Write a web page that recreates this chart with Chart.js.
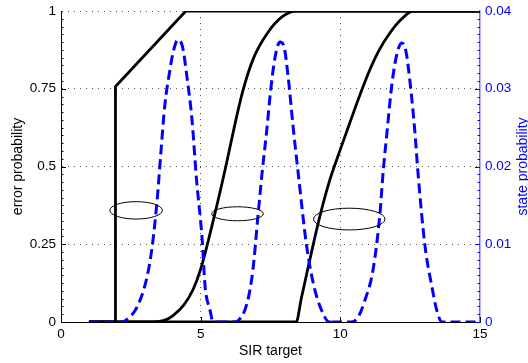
<!DOCTYPE html>
<html><head><meta charset="utf-8">
<script src="https://cdn.jsdelivr.net/npm/chart.js@4.4.0/dist/chart.umd.min.js"></script>
<style>html,body{margin:0;padding:0;background:#fff;overflow:hidden}#wrap{width:528px;height:363px}</style>
</head><body><div id="wrap"><canvas id="c" width="528" height="363"></canvas></div>
<script>
// ---- data ----
const xTickValues = [0, 5, 10, 15];
const leftTickValues = [0, 0.25, 0.5, 0.75, 1];
const rightTickValues = [0, 0.01, 0.02, 0.03, 0.04];

// error probability curves (left axis)
const err1X = [1, 1.95, 1.95, 4.47, 15];
const err1Y = [0, 0, 0.757, 1, 1];
const err2X = [1, 3.3, 3.7, 4.0, 4.4, 4.72, 5.0, 5.5, 5.9, 6.2, 6.5, 6.9, 7.4, 7.9, 8.4, 15];
const err2Y = [0, 0, 0.005, 0.02, 0.055, 0.103, 0.17, 0.345, 0.5, 0.625, 0.74, 0.85, 0.93, 0.98, 1, 1];
const err3X = [1, 8.42, 8.6, 8.85, 9.24, 9.6, 10.0, 10.35, 10.7, 11.06, 11.4, 11.78, 12.2, 12.6, 15];
const err3Y = [0, 0, 0.075, 0.177, 0.33, 0.45, 0.555, 0.643, 0.73, 0.812, 0.876, 0.93, 0.975, 1, 1];

// state probability curves (right axis)
const st1X = [1, 2.2, 2.35, 2.72, 3.08, 3.26, 3.44, 3.58, 3.72, 3.88, 4.02, 4.19, 4.35, 4.51, 4.69, 4.85, 5.05, 5.16, 5.33, 5.45, 5.6];
const st1Y = [0, 0, 0.0003, 0.0019, 0.0058, 0.0096, 0.0156, 0.022, 0.028, 0.032, 0.0348, 0.0363, 0.0354, 0.0315, 0.026, 0.0184, 0.0108, 0.0045, 0.0016, 0, 0];
const st2X = [5.6, 6.2, 6.35, 6.66, 6.87, 7.05, 7.2, 7.37, 7.5, 7.66, 7.84, 7.97, 8.13, 8.31, 8.49, 8.8, 9.09, 9.45, 9.6, 9.7];
const st2Y = [0, 0, 0.0002, 0.0024, 0.0067, 0.0136, 0.0192, 0.0248, 0.0296, 0.034, 0.036, 0.0356, 0.0316, 0.0251, 0.0192, 0.0096, 0.0041, 0.0006, 0, 0];
const st3X = [9.7, 10.4, 10.63, 10.88, 11.17, 11.42, 11.53, 11.67, 11.85, 12.02, 12.2, 12.35, 12.5, 12.67, 12.78, 13.03, 13.28, 13.46, 13.64, 15];
const st3Y = [0, 0, 0.0006, 0.0028, 0.0067, 0.014, 0.0192, 0.0244, 0.0307, 0.0344, 0.0359, 0.0348, 0.0307, 0.0244, 0.0192, 0.0098, 0.0045, 0.0014, 0, 0];

// annotation ellipses (data units, left axis)
const ellipseCX = [2.69, 6.32, 10.32];
const ellipseCY = [0.359, 0.348, 0.331];
const ellipseRX = [0.94, 0.925, 1.28];
const ellipseRY = [0.028, 0.0225, 0.035];

const xTitle = 'SIR target';
const leftTitle = 'error probability';
const rightTitle = 'state probability';

// ---- helpers ----
const toPts = (xs, ys) => xs.map((x, i) => ({x: x, y: ys[i]}));
const FONT = "'Liberation Sans', Arial, Helvetica, sans-serif";
const BLUE = '#0000ff';
const fmt = v => String(Math.round(v * 1e6) / 1e6);

const blackDs = (xs, ys, mono) => ({
  data: toPts(xs, ys), yAxisID: 'yL', borderColor: '#000', borderWidth: 2.8,
  pointRadius: 0, fill: false, order: 2,
  tension: mono ? 0.4 : 0, cubicInterpolationMode: mono ? 'monotone' : 'default'
});
const blueDs = (xs, ys) => ({
  data: toPts(xs, ys), yAxisID: 'yR', borderColor: BLUE, borderWidth: 3,
  borderDash: [10, 5], pointRadius: 0, fill: false, order: 1,
  tension: 0.4, cubicInterpolationMode: 'monotone'
});
const noPad = s => { s.paddingTop = 0; s.paddingBottom = 0; s.paddingLeft = 0; s.paddingRight = 0; };

const overlay = {
  id: 'overlay',
  afterDatasetsDraw(chart) {
    const ctx = chart.ctx, sx = chart.scales.x, sy = chart.scales.yL;
    ctx.save();
    ctx.strokeStyle = '#000';
    ctx.lineWidth = 1;
    for (let i = 0; i < ellipseCX.length; i++) {
      const cx = sx.getPixelForValue(ellipseCX[i]);
      const cy = sy.getPixelForValue(ellipseCY[i]);
      const rx = Math.abs(sx.getPixelForValue(ellipseCX[i] + ellipseRX[i]) - cx);
      const ry = Math.abs(sy.getPixelForValue(ellipseCY[i] + ellipseRY[i]) - cy);
      ctx.beginPath();
      ctx.ellipse(cx, cy, rx, ry, 0, 0, Math.PI * 2);
      ctx.stroke();
    }
    ctx.restore();
  },
  afterDraw(chart) {
    const ctx = chart.ctx, a = chart.chartArea;
    const sx = chart.scales.x, sL = chart.scales.yL, sR = chart.scales.yR;
    ctx.save();
    ctx.lineWidth = 1;
    // left ticks (inward)
    ctx.strokeStyle = '#000';
    ctx.beginPath();
    for (let i = 0; i < leftTickValues.length - 1; i++) {
      const lo = leftTickValues[i], hi = leftTickValues[i + 1];
      for (let k = 0; k < 10; k++) {
        const p = Math.round(sL.getPixelForValue(lo + (hi - lo) * k / 10)) + 0.5;
        const len = k === 0 ? 5 : 2.5;
        ctx.moveTo(a.left, p); ctx.lineTo(a.left + len, p);
      }
    }
    // bottom ticks
    xTickValues.forEach(v => {
      const p = Math.round(sx.getPixelForValue(v)) + 0.5;
      ctx.moveTo(p, a.bottom); ctx.lineTo(p, a.bottom - 5);
    });
    ctx.stroke();
    // right ticks
    ctx.strokeStyle = BLUE;
    ctx.beginPath();
    for (let i = 0; i < rightTickValues.length - 1; i++) {
      const lo = rightTickValues[i], hi = rightTickValues[i + 1];
      for (let k = 0; k <= 10; k++) {
        const p = Math.round(sR.getPixelForValue(lo + (hi - lo) * k / 10)) + 0.5;
        const len = (k === 0 || k === 10) ? 5 : 2.5;
        ctx.moveTo(a.right, p); ctx.lineTo(a.right - len, p);
      }
    }
    ctx.stroke();
    // titles
    ctx.font = '14px ' + FONT;
    ctx.fillStyle = '#000';
    ctx.textAlign = 'center';
    ctx.textBaseline = 'alphabetic';
    ctx.fillText(xTitle, (a.left + a.right) / 2, 355);
    const midY = (a.top + a.bottom) / 2;
    ctx.save();
    ctx.translate(22, midY);
    ctx.rotate(-Math.PI / 2);
    ctx.fillText(leftTitle, 0, 0);
    ctx.restore();
    ctx.save();
    ctx.fillStyle = BLUE;
    ctx.translate(527, midY);
    ctx.rotate(-Math.PI / 2);
    ctx.fillText(rightTitle, 0, 0);
    ctx.restore();
    ctx.restore();
  }
};

new Chart(document.getElementById('c'), {
  type: 'line',
  data: {
    datasets: [
      blueDs(st1X, st1Y), blueDs(st2X, st2Y), blueDs(st3X, st3Y),
      blackDs(err1X, err1Y, false), blackDs(err2X, err2Y, true), blackDs(err3X, err3Y, true)
    ]
  },
  options: {
    responsive: false,
    animation: false,
    devicePixelRatio: 1,
    layout: {padding: {top: 11, left: 0, right: 0, bottom: 0}},
    plugins: {legend: {display: false}, tooltip: {enabled: false}, title: {display: false}},
    scales: {
      x: {
        type: 'linear', min: 0, max: 15,
        afterBuildTicks: s => { s.ticks = xTickValues.map(v => ({value: v})); },
        afterFit: s => { s.height = 41; noPad(s); },
        ticks: {padding: 4, color: '#000', font: {family: FONT, size: 13.5}, maxRotation: 0, callback: v => fmt(v)},
        grid: {drawTicks: false, lineWidth: 1,
          color: c => (c.tick && c.tick.value > 0 && c.tick.value < 15) ? '#555' : 'rgba(0,0,0,0)'},
        border: {display: true, color: '#000', width: 1, dash: [1, 5]}
      },
      yL: {
        type: 'linear', position: 'left', min: 0, max: 1,
        afterBuildTicks: s => { s.ticks = leftTickValues.map(v => ({value: v})); },
        afterFit: s => { s.width = 61; noPad(s); },
        ticks: {padding: 5, color: '#000', font: {family: FONT, size: 13.5}, callback: v => fmt(v)},
        grid: {drawTicks: false, lineWidth: 1,
          color: c => (c.tick && c.tick.value > 0) ? '#555' : 'rgba(0,0,0,0)'},
        border: {display: true, color: '#000', width: 1, dash: [1, 5]}
      },
      yR: {
        type: 'linear', position: 'right', min: 0, max: 0.04,
        afterBuildTicks: s => { s.ticks = rightTickValues.map(v => ({value: v})); },
        afterFit: s => { s.width = 48; noPad(s); },
        ticks: {padding: 5, color: BLUE, font: {family: FONT, size: 13.5}, callback: v => fmt(v)},
        grid: {drawTicks: false, drawOnChartArea: false},
        border: {display: true, color: 'rgba(60,60,255,0.75)', width: 1.5}
      }
    }
  },
  plugins: [overlay]
});
</script>
</body></html>
